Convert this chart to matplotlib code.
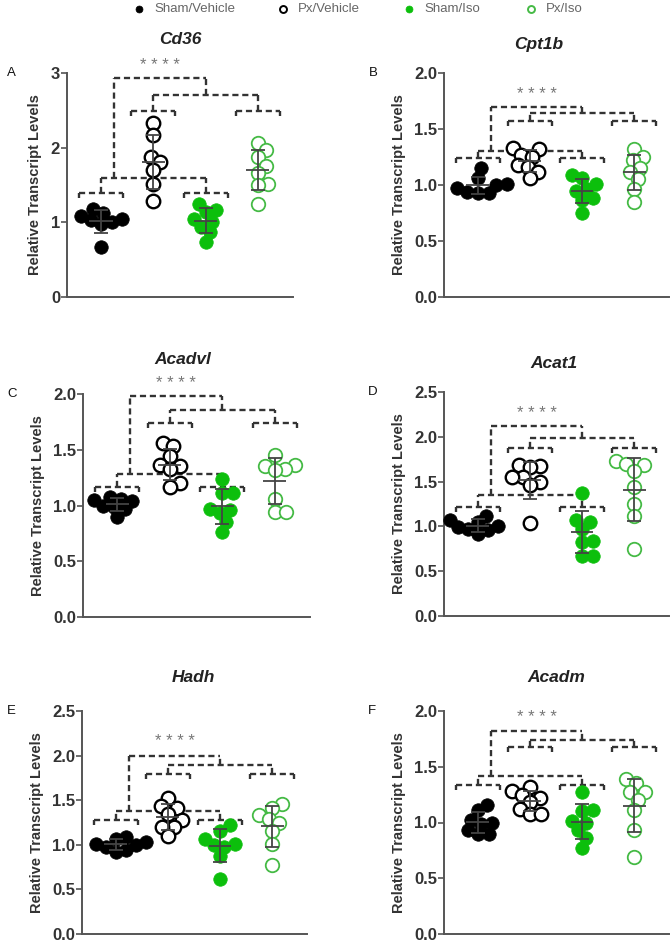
"""
Relative transcript levels of fatty-acid oxidation genes, 4 groups x 6 genes.
"""

import numpy as np
import matplotlib
matplotlib.use('Agg')
import matplotlib.pyplot as plt

# ---------------------------------------------------------------------------
# Data
# ---------------------------------------------------------------------------

GROUPS = ['Sham/Vehicle', 'Px/Vehicle', 'Sham/Iso', 'Px/Iso']
GENES = ['Cd36', 'Cpt1b', 'Acadvl', 'Acat1', 'Hadh', 'Acadm']
PANEL_LETTERS = ['A', 'B', 'C', 'D', 'E', 'F']

cd36_sham_veh = [1.18, 1.12, 1.08, 1.05, 1.03, 1.00, 0.98, 0.67]
cd36_px_veh = [2.33, 2.17, 1.88, 1.81, 1.70, 1.52, 1.28]
cd36_sham_iso = [1.25, 1.16, 1.14, 1.05, 1.01, 0.94, 0.87, 0.74]
cd36_px_iso = [2.06, 1.97, 1.88, 1.75, 1.66, 1.52, 1.50, 1.25]

cpt1b_sham_veh = [1.15, 1.06, 1.01, 1.00, 0.97, 0.94, 0.93, 0.93]
cpt1b_px_veh = [1.33, 1.32, 1.27, 1.25, 1.18, 1.16, 1.12, 1.06]
cpt1b_sham_iso = [1.09, 1.06, 1.01, 0.96, 0.95, 0.88, 0.87, 0.75]
cpt1b_px_iso = [1.32, 1.25, 1.22, 1.15, 1.12, 1.05, 0.96, 0.85]

acadvl_sham_veh = [1.08, 1.06, 1.05, 1.04, 1.00, 0.99, 0.97, 0.90]
acadvl_px_veh = [1.56, 1.53, 1.44, 1.36, 1.35, 1.33, 1.20, 1.17]
acadvl_sham_iso = [1.24, 1.11, 1.11, 0.97, 0.96, 0.93, 0.85, 0.76]
acadvl_px_iso = [1.45, 1.36, 1.35, 1.33, 1.32, 1.06, 0.94, 0.94]

acat1_sham_veh = [1.12, 1.07, 1.05, 1.01, 0.99, 0.97, 0.96, 0.91]
acat1_px_veh = [1.68, 1.67, 1.66, 1.55, 1.55, 1.50, 1.46, 1.04]
acat1_sham_iso = [1.37, 1.07, 1.05, 0.97, 0.84, 0.83, 0.67, 0.67]
acat1_px_iso = [1.73, 1.70, 1.68, 1.62, 1.44, 1.25, 1.12, 0.75]

hadh_sham_veh = [1.09, 1.07, 1.03, 1.01, 1.00, 0.98, 0.94, 0.92]
hadh_px_veh = [1.53, 1.44, 1.41, 1.35, 1.28, 1.20, 1.20, 1.10]
hadh_sham_iso = [1.22, 1.16, 1.07, 1.01, 1.00, 0.98, 0.87, 0.62]
hadh_px_iso = [1.46, 1.41, 1.33, 1.29, 1.24, 1.15, 1.01, 0.77]

acadm_sham_veh = [1.16, 1.11, 1.02, 1.00, 0.99, 0.93, 0.90, 0.90]
acadm_px_veh = [1.32, 1.28, 1.25, 1.22, 1.18, 1.12, 1.08, 1.08]
acadm_sham_iso = [1.27, 1.11, 1.10, 1.01, 1.00, 0.93, 0.86, 0.77]
acadm_px_iso = [1.39, 1.35, 1.27, 1.27, 1.20, 1.11, 0.93, 0.69]

DATA = [
    [cd36_sham_veh, cd36_px_veh, cd36_sham_iso, cd36_px_iso],
    [cpt1b_sham_veh, cpt1b_px_veh, cpt1b_sham_iso, cpt1b_px_iso],
    [acadvl_sham_veh, acadvl_px_veh, acadvl_sham_iso, acadvl_px_iso],
    [acat1_sham_veh, acat1_px_veh, acat1_sham_iso, acat1_px_iso],
    [hadh_sham_veh, hadh_px_veh, hadh_sham_iso, hadh_px_iso],
    [acadm_sham_veh, acadm_px_veh, acadm_sham_iso, acadm_px_iso],
]

# y-axis ticks per panel
YTICKS = [
    [0, 1, 2, 3],
    [0.0, 0.5, 1.0, 1.5, 2.0],
    [0.0, 0.5, 1.0, 1.5, 2.0],
    [0.0, 0.5, 1.0, 1.5, 2.0, 2.5],
    [0.0, 0.5, 1.0, 1.5, 2.0, 2.5],
    [0.0, 0.5, 1.0, 1.5, 2.0],
]
YTICK_LABELS = [
    ['0', '1', '2', '3'],
    ['0.0', '0.5', '1.0', '1.5', '2.0'],
    ['0.0', '0.5', '1.0', '1.5', '2.0'],
    ['0.0', '0.5', '1.0', '1.5', '2.0', '2.5'],
    ['0.0', '0.5', '1.0', '1.5', '2.0', '2.5'],
    ['0.0', '0.5', '1.0', '1.5', '2.0'],
]

# bracket heights: (sham brackets, px brackets, sham-sham link, px-px link, top link, stars)
BRACKETS = [
    (1.39, 2.49, 1.59, 2.70, 2.93, 3.10),
    (1.24, 1.57, 1.30, 1.64, 1.70, 1.81),
    (1.17, 1.74, 1.28, 1.86, 1.98, 2.09),
    (1.22, 1.87, 1.35, 1.99, 2.12, 2.26),
    (1.28, 1.79, 1.38, 1.89, 1.99, 2.16),
    (1.34, 1.68, 1.42, 1.74, 1.82, 1.94),
]

# ---------------------------------------------------------------------------
# Style
# ---------------------------------------------------------------------------

GREEN = '#0cbf0c'
GREEN_LIGHT = '#45ba45'
AXIS_COLOR = '#555555'
ERR_COLOR = '#444444'
BRACKET_COLOR = '#333333'

# (facecolor, edgecolor, edge width)
MARKER_STYLE = [
    ('#000000', '#000000', 0.5),
    ('white', '#000000', 1.7),
    (GREEN, GREEN, 0.5),
    ('white', GREEN_LIGHT, 1.3),
]

FONT = ['Liberation Sans', 'DejaVu Sans']
plt.rcParams['font.family'] = FONT

# axes boxes in pixels: left, right, top, bottom
FIG_W, FIG_H = 672, 944
AX_BOX = [
    (67, 293, 73, 297),
    (444, 669, 73, 297),
    (83, 310, 394, 617),
    (444, 669, 392, 616),
    (82, 307, 711, 934),
    (444, 669, 711, 934),
]
TITLE_POS = [(180, 40), (539, 45), (183, 360), (554, 363), (193, 678), (556, 678)]
LETTER_POS = [(7, 73), (369, 73), (7, 394), (368, 392), (7, 711), (368, 711)]

XLIM = (0.35, 4.67)
MARKER_PX = 13.5


def swarm_offsets(values, px_per_y, px_per_x, diam):
    """Deterministic beeswarm: x offsets (data units) so markers barely overlap."""
    vals = np.asarray(values, dtype=float)
    order = np.argsort(vals)
    placed = []  # (x_px, y_px)
    offs = np.zeros(len(vals))
    cand = [0.0]
    for k in range(1, 80):
        cand += [k * 0.5, -k * 0.5]
    for i in order:
        y = vals[i] * px_per_y
        for c in cand:
            ok = all((c - px) ** 2 + (y - py) ** 2 >= (0.78 * diam) ** 2
                     for px, py in placed)
            if ok:
                placed.append((c, y))
                offs[i] = c / px_per_x
                break
    return offs


DASH_KW = dict(color=BRACKET_COLOR, lw=1.7, ls=(0, (2.6, 1.6)), clip_on=False)


def draw_bracket(ax, x0, x1, y, tick=0.0):
    ax.plot([x0, x1], [y, y], **DASH_KW)
    if tick:
        ax.plot([x0, x0], [y, y - tick], **DASH_KW)
        ax.plot([x1, x1], [y, y - tick], **DASH_KW)


def vline(ax, x, y0, y1):
    ax.plot([x, x], [y0, y1], **DASH_KW)


fig = plt.figure(figsize=(FIG_W / 100, FIG_H / 100), dpi=100)

for p in range(6):
    l, r, t, b = AX_BOX[p]
    ax = fig.add_axes([l / FIG_W, 1 - b / FIG_H, (r - l) / FIG_W, (b - t) / FIG_H])
    yt = YTICKS[p]
    ymax = yt[-1]
    ax.set_ylim(0, ymax)
    ax.set_xlim(*XLIM)

    px_per_y = (b - t) / ymax
    px_per_x = (r - l) / (XLIM[1] - XLIM[0])

    for g in range(4):
        vals = np.asarray(DATA[p][g])
        xc = g + 1
        offs = swarm_offsets(vals, px_per_y, px_per_x, MARKER_PX)
        fc, ec, ew = MARKER_STYLE[g]
        ax.scatter(xc + offs, vals, s=(MARKER_PX * 0.72) ** 2, facecolor=fc,
                   edgecolor=ec, linewidths=ew, zorder=3, clip_on=False)
        m = vals.mean()
        sd = vals.std(ddof=1)
        ax.errorbar([xc], [m], yerr=[sd], fmt='none', ecolor=ERR_COLOR,
                    elinewidth=1.3, capsize=4.7, capthick=1.3, zorder=4)
        ax.hlines(m, xc - 0.22, xc + 0.22, color=ERR_COLOR, lw=1.3, zorder=4)

    # significance brackets
    h_sham, h_px, h_13, h_24, h_top, h_star = BRACKETS[p]
    tick = 5.0 / px_per_y
    half = 0.42
    for xc, h in [(1, h_sham), (3, h_sham), (2, h_px), (4, h_px)]:
        draw_bracket(ax, xc - half, xc + half, h, tick=tick)
    vline(ax, 1, h_sham, h_13)
    vline(ax, 3, h_sham, h_13)
    draw_bracket(ax, 1, 3, h_13)
    vline(ax, 2, h_px, h_24)
    vline(ax, 4, h_px, h_24)
    draw_bracket(ax, 2, 4, h_24)
    vline(ax, 1.25, h_13, h_top)
    vline(ax, 3, h_24, h_top)
    draw_bracket(ax, 1.25, 3, h_top)
    ax.text(2.125, h_star, '* * * *', ha='center', va='center', fontsize=12,
            color='#777777', clip_on=False)

    # axes style
    for side in ['top', 'right']:
        ax.spines[side].set_visible(False)
    for side in ['left', 'bottom']:
        ax.spines[side].set_color(AXIS_COLOR)
        ax.spines[side].set_linewidth(1.4)
    ax.set_xticks([])
    ax.set_yticks(yt)
    ax.set_yticklabels(YTICK_LABELS[p], fontweight='bold', fontsize=12,
                       color='#333333')
    ax.tick_params(axis='y', length=4, width=1.2, color=AXIS_COLOR, pad=1)
    ax.set_ylabel('Relative Transcript Levels', fontweight='bold', fontsize=10.5,
                  color='#333333', labelpad=6)

    tx, ty = TITLE_POS[p]
    fig.text(tx / FIG_W, 1 - ty / FIG_H, GENES[p], ha='center', va='center',
             fontsize=12.5, fontweight='bold', fontstyle='italic', color='#222222')
    lx, ly = LETTER_POS[p]
    fig.text(lx / FIG_W, 1 - ly / FIG_H, PANEL_LETTERS[p], ha='left', va='center',
             fontsize=9.5, color='#111111')

# legend row on top
LEG_X = [139, 283, 409, 531]
for g in range(4):
    fc, ec, ew = MARKER_STYLE[g]
    fig.lines.append(matplotlib.lines.Line2D(
        [LEG_X[g] / FIG_W], [1 - 9 / FIG_H], transform=fig.transFigure,
        marker='o', markersize=5, markerfacecolor=fc, markeredgecolor=ec,
        markeredgewidth=1.4 if fc == 'white' else 0.5, linestyle='none'))
    fig.text((LEG_X[g] + 15) / FIG_W, 1 - 9 / FIG_H, GROUPS[g], ha='left',
             va='center', fontsize=9.5, color='#666666')

fig.savefig('out.png', dpi=100)
